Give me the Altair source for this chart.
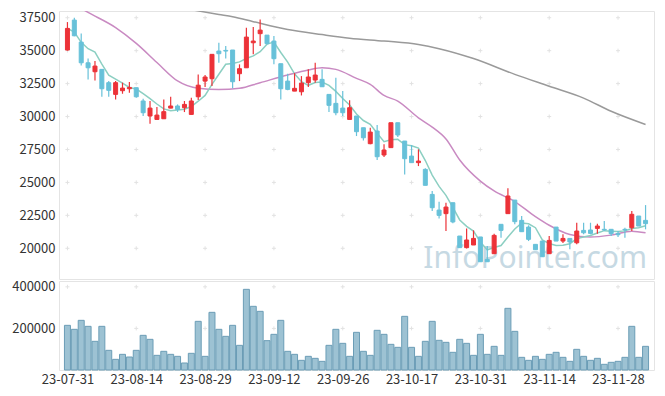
import altair as alt
import pandas as pd

# ---------------- data ----------------
tick_labels = ["23-07-31", "23-08-14", "23-08-29", "23-09-12", "23-09-26",
               "23-10-17", "23-10-31", "23-11-14", "23-11-28"]
tick_index = [0, 10, 20, 30, 40, 50, 60, 70, 80]
price_ticks = [20000, 22500, 25000, 27500, 30000, 32500, 35000, 37500]
volume_ticks = [200000, 400000]

opens = [35050, 37320, 35650, 34080, 33400, 33580, 32570, 31680, 31960, 32110,
         32190, 31180, 30040, 29780, 29830, 30640, 30800, 30670, 30160, 31500,
         32690, 32870, 34970, 35020, 35050, 33250, 33700, 35600, 36290, 36180,
         35730, 34010, 32690, 31930, 31880, 32570, 32770, 32820, 31680, 31000,
         30640, 29780, 30040, 29150, 27940, 28900, 27080, 27640, 29530, 28140,
         27000, 26500, 25990, 24090, 22900, 22630, 23460, 20930, 20050, 20250,
         20860, 19160, 19590, 21820, 22630, 23660, 22120, 21610, 20300, 20550,
         19590, 21610, 20550, 20750, 20420, 21360, 21390, 21510, 21440, 21440,
         21110, 21440, 21560, 22450, 22120]
highs = [37170, 37500, 36310, 34410, 34210, 33580, 32690, 32690, 32570, 32620,
         32190, 31350, 31180, 30720, 31300, 31500, 30920, 31180, 31430, 33200,
         33150, 34720, 35600, 35350, 35050, 33960, 36740, 36790, 37370, 36180,
         36110, 34010, 33250, 33300, 33070, 33580, 34080, 33580, 31680, 32950,
         31930, 31230, 30040, 29150, 29150, 29350, 27890, 29530, 29530, 28140,
         27840, 27510, 26070, 24350, 23540, 23460, 23460, 20930, 21510, 21360,
         20860, 20170, 21110, 21820, 24550, 23660, 22450, 21740, 20300, 20550,
         20930, 21610, 21060, 20750, 21940, 21940, 21940, 21870, 22070, 21440,
         21310, 21560, 22830, 22450, 23280]
lows = [35000, 36100, 33880, 32820, 32740, 31500, 31500, 31300, 31730, 31810,
        31430, 30040, 29460, 29780, 29830, 30620, 30350, 30340, 30160, 31250,
        32240, 32310, 34080, 34410, 32140, 32690, 33700, 34720, 35350, 35480,
        33960, 31300, 31990, 31930, 31600, 32240, 32570, 32240, 30340, 30090,
        30040, 29780, 28520, 28190, 27900, 26700, 26930, 27640, 28450, 25610,
        26500, 26240, 24780, 22830, 22270, 21310, 21900, 20050, 19990, 20250,
        18980, 18980, 19590, 20800, 22630, 21820, 21260, 20550, 19890, 19360,
        19590, 20550, 20400, 19920, 20300, 21060, 21060, 21110, 21310, 20930,
        20860, 20800, 21310, 21690, 21440]
closes = [36690, 36130, 34080, 33700, 33830, 32110, 31990, 32570, 32160, 32210,
          31500, 30290, 30640, 30110, 30370, 30800, 30540, 30920, 31180, 32380,
          33000, 34720, 34770, 34970, 32640, 33630, 36030, 35730, 36560, 35530,
          34390, 32110, 32060, 32140, 32540, 33000, 33150, 32260, 30850, 30290,
          30290, 30670, 28850, 28390, 28820, 26950, 27460, 29530, 28600, 26800,
          26500, 26620, 24780, 23080, 22500, 23130, 22000, 20050, 20630, 20750,
          18980, 18980, 20980, 21360, 23970, 22020, 21260, 20680, 19890, 19360,
          20600, 20550, 20750, 20480, 21310, 21180, 21130, 21690, 21390, 21110,
          21030, 21390, 22580, 21690, 21870]
volumes = [214800, 195600, 238800, 210000, 137900, 210000, 94600, 51300, 75300, 62500,
           94600, 166700, 147500, 70500, 89800, 75300, 65700, 33700, 80200, 234000,
           65700, 277300, 195600, 161900, 214800, 118600, 387900, 306200, 282100, 141100,
           171500, 238800, 89800, 75300, 46500, 65700, 56100, 41700, 118600, 195600,
           128200, 65700, 181100, 89800, 70500, 190800, 171500, 123400, 109000, 258100,
           109000, 65700, 137900, 234000, 142700, 133000, 85000, 147500, 128200, 70500,
           171500, 75300, 113800, 70500, 296600, 185900, 60900, 46500, 65700, 51300,
           75300, 85000, 60900, 41700, 99400, 65700, 46500, 56100, 27300, 36900,
           41700, 60900, 210000, 60900, 113800]

# 20-day and 60-day moving averages (candle index, value)
ma20_idx = [0, 3, 7, 10, 13, 16, 19, 22, 25, 28, 32, 35, 37, 39, 42, 44, 46, 48,
            51, 53, 55, 57, 60, 62, 65, 68, 70, 73, 76, 79, 82, 84]
ma20_val = [38800, 37900, 36750, 35550, 34100, 32700, 32140, 32050, 32140, 32570,
            33150, 33530, 33700, 33580, 32900, 32440, 31600, 31175, 29900, 29200,
            28300, 26700, 25100, 24350, 23550, 22400, 21750, 21050, 20850, 21000,
            21300, 21180]
ma60_idx = [14, 18.5, 22, 24, 27, 32, 37, 41, 46, 51, 54, 59, 65, 70, 75, 79, 84]
ma60_val = [38500, 38060, 37750, 37580, 37200, 36600, 36220, 35950, 35730, 35470,
            35150, 34400, 33200, 32300, 31400, 30400, 29400]

watermark = "InfoPointer.com"

# ---------------- tables ----------------
n = len(opens)
df = pd.DataFrame({"idx": list(range(n)), "open": opens, "high": highs,
                   "low": lows, "close": closes, "volume": volumes})
df["dir"] = ["up" if c >= o else "down" for o, c in zip(opens, closes)]
ma20_df = pd.DataFrame({"idx": ma20_idx, "v": ma20_val})
ma60_df = pd.DataFrame({"idx": ma60_idx, "v": ma60_val})
cross_df = pd.DataFrame([(i, p) for i in tick_index for p in price_ticks],
                        columns=["idx", "price"])
vcross_df = pd.DataFrame([(i, v) for i in tick_index for v in volume_ticks],
                         columns=["idx", "vol"])

W, H1, H2 = 595, 268, 89
FONT = "Noto Sans CJK KR"
RED, BLUE = "#ec3238", "#67c1d9"

xscale = alt.Scale(domain=[-0.5, n - 0.5], nice=False, zero=False)
yscale = alt.Scale(domain=[17670, 38010], nice=False, zero=False)
vscale = alt.Scale(domain=[0, 428000], nice=False, zero=False)
cscale = alt.Scale(domain=["up", "down"], range=[RED, BLUE])

x_hidden = alt.X("idx:Q", scale=xscale, axis=None)
y_axis = alt.Axis(values=price_ticks, format="d", title=None, labelOverlap=False)
v_axis = alt.Axis(values=volume_ticks, format="d", title=None, labelOverlap=False)


def py(field):
    return alt.Y(field, scale=yscale, axis=y_axis)


crosses = alt.Chart(cross_df).mark_point(
    shape="M-1,0L1,0M0,-1L0,1", size=16, stroke="#e2e2e2", strokeWidth=1,
    filled=False, opacity=1
).encode(x=x_hidden, y=py("price:Q"))

wm = alt.Chart(pd.DataFrame({"t": [watermark]})).mark_text(
    font="Noto Sans", fontSize=30, color="#c6d9e3", align="right",
    baseline="alphabetic"
).encode(text="t:N", x=alt.value(588), y=alt.value(257))

ma60 = alt.Chart(ma60_df).mark_line(
    color="#9a9a9a", strokeWidth=1.5, clip=True, interpolate="monotone"
).encode(x=x_hidden, y=py("v:Q"))

ma20 = alt.Chart(ma20_df).mark_line(
    color="#c98ac2", strokeWidth=1.5, clip=True, interpolate="monotone"
).encode(x=x_hidden, y=py("v:Q"))

ma5 = alt.Chart(df).transform_window(
    ma5="mean(close)", frame=[-4, 0], sort=[alt.SortField("idx")]
).mark_line(color="#8ccfc2", strokeWidth=1.5, clip=True).encode(
    x=x_hidden, y=py("ma5:Q"))

wicks = alt.Chart(df).mark_rule(strokeWidth=1.2).encode(
    x=x_hidden, y=py("low:Q"), y2="high:Q",
    color=alt.Color("dir:N", scale=cscale, legend=None))

bodies = alt.Chart(df).mark_bar(size=4, strokeWidth=1).encode(
    x=x_hidden, y=py("open:Q"), y2="close:Q",
    color=alt.Color("dir:N", scale=cscale, legend=None),
    stroke=alt.Stroke("dir:N", scale=cscale, legend=None))

top = alt.layer(crosses, wm, ma60, ma20, ma5, wicks, bodies).properties(
    width=W, height=H1)

label_expr = "[" + ",".join("'%s'" % s for s in tick_labels) + "][round(datum.value/10)]"
x_bottom = alt.X("idx:Q", scale=xscale,
                 axis=alt.Axis(values=tick_index, labelExpr=label_expr, title=None,
                               labelPadding=3, labelFlush=False))

vcross = alt.Chart(vcross_df).mark_point(
    shape="M-1,0L1,0M0,-1L0,1", size=16, stroke="#e2e2e2", strokeWidth=1,
    filled=False, opacity=1
).encode(x=x_bottom, y=alt.Y("vol:Q", scale=vscale, axis=v_axis))

vbars = alt.Chart(df).mark_bar(
    size=6, color="#98bfd1", stroke="#6b9db6", strokeWidth=1, fillOpacity=0.95
).encode(x=x_bottom, y=alt.Y("volume:Q", scale=vscale, axis=v_axis))

bottom = alt.layer(vcross, vbars).properties(width=W, height=H2)

chart = alt.vconcat(top, bottom, spacing=0).properties(
    padding={"left": 3, "top": 2, "right": 0, "bottom": 0}
).configure_view(stroke="#e4e4e4").configure_axis(
    labelFont=FONT, labelFontSize=13, labelColor="#333333",
    ticks=False, domain=False, grid=False, labelPadding=4
).configure_concat(spacing=0)

chart.save("out.html", embed_options={"renderer": "svg", "actions": False})
